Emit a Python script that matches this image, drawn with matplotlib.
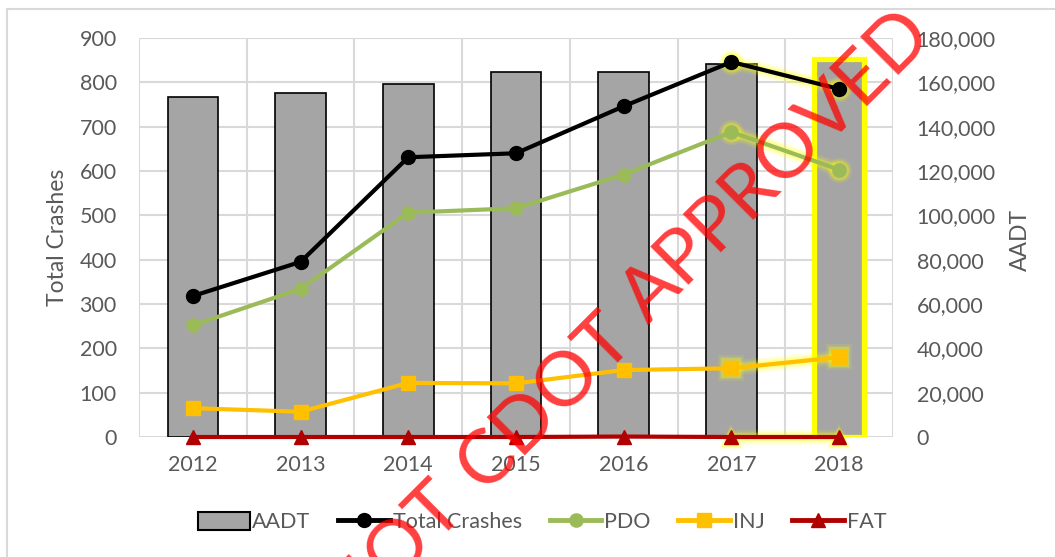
import numpy as np
import matplotlib
matplotlib.use("Agg")
import matplotlib.pyplot as plt
from matplotlib.patches import Rectangle, Patch
from matplotlib.lines import Line2D
from matplotlib.ticker import FuncFormatter

years = ["2012", "2013", "2014", "2015", "2016", "2017", "2018"]
aadt = [153400, 155300, 159200, 164500, 164800, 168300, 170500]
total_crashes = [318, 395, 631, 640, 746, 846, 785]
pdo = [252, 334, 506, 516, 592, 688, 603]
inj = [65, 57, 122, 121, 151, 155, 180]
fat = [0, 0, 0, 0, 1, 0, 0]

# watermark words and their centres (figure pixels from top-left)
stamp_words = ["NOT", "CDOT", "APPROVED"]
stamp_px = [(393, 550), (545, 402), (777, 167)]

plt.rcParams['font.family'] = ['Lato', 'DejaVu Sans']
text_grey = "#595959"
grid_grey = "#D9D9D9"


def main():
    fig = plt.figure(figsize=(10.55, 5.57), dpi=100)

    # outer chart border
    fig.patches.append(Rectangle((7 / 1055, -0.05), 1.2, 0.05 + (557 - 9) / 557,
                                 transform=fig.transFigure, fill=False,
                                 edgecolor=grid_grey, linewidth=1.5))

    ax_bar = fig.add_axes([139 / 1055, 120 / 557, (893 - 139) / 1055, (437 - 38) / 557])
    ax_line = ax_bar.twinx()

    x = np.arange(len(years))

    # bars (right axis) drawn first so they sit behind the lines
    ax_bar.set_axisbelow(True)
    bars = ax_bar.bar(x, aadt, width=0.47, color="#A5A5A5", edgecolor="black", linewidth=1.2)
    bars[-1].set_edgecolor("#FFFF00")
    bars[-1].set_linewidth(3.8)
    ax_bar.set_ylim(0, 180000)
    ax_bar.set_yticks(np.arange(0, 180001, 20000))
    ax_bar.yaxis.set_major_formatter(FuncFormatter(lambda v, p: f"{int(v):,}"))
    ax_bar.yaxis.tick_right()
    ax_bar.grid(axis="y", color=grid_grey, linewidth=1.5)
    for b in np.arange(-0.5, 7, 1.0):
        ax_bar.axvline(b, color=grid_grey, linewidth=1.5, zorder=0)
    ax_bar.set_xlim(-0.5, 6.5)
    ax_bar.set_xticks(x)
    ax_bar.set_xticklabels(years)

    for s in ax_bar.spines.values():
        s.set_visible(False)
    for s in ax_line.spines.values():
        s.set_visible(False)

    # lines (left axis)
    series = [
        (total_crashes, "black", "o", 10, "Total Crashes"),
        (pdo, "#9BBB59", "o", 9.5, "PDO"),
        (inj, "#FFC000", "s", 10, "INJ"),
        (fat, "#B00000", "^", 10, "FAT"),
    ]
    # soft yellow glow on the 2017-2018 points
    for vals, col, mk, ms, name in series:
        for lw, a in [(11, 0.1), (8, 0.15), (5.5, 0.25)]:
            ax_line.plot(x[5:], vals[5:], color="#FFFF00", linewidth=lw, alpha=a,
                         solid_capstyle="round", clip_on=False, zorder=2)
            ax_line.plot(x[5:], vals[5:], linestyle="none", marker=mk, markersize=ms + lw * 0.8,
                         color="#FFFF00", alpha=a, markeredgewidth=0, clip_on=False, zorder=2)
    for vals, col, mk, ms, name in series:
        ax_line.plot(x, vals, color=col, linewidth=3, marker=mk, markersize=ms,
                     clip_on=False, zorder=3)

    ax_line.set_ylim(0, 900)
    ax_line.set_yticks(np.arange(0, 901, 100))
    ax_line.yaxis.tick_left()
    ax_line.set_xlim(-0.5, 6.5)

    for a in (ax_bar, ax_line):
        a.tick_params(length=0, labelsize=15.5, labelcolor=text_grey)
    ax_bar.tick_params(axis="y", pad=17)
    ax_line.tick_params(axis="y", pad=16)
    ax_bar.tick_params(axis="x", pad=13)

    fig.text(58 / 1055, (557 - 237) / 557, "Total Crashes", rotation=90, ha="center",
             va="center", fontsize=16.5, color=text_grey)
    fig.text(1020 / 1055, (557 - 240) / 557, "AADT", rotation=90, ha="center",
             va="center", fontsize=16.5, color=text_grey)

    handles = [Patch(facecolor="#A5A5A5", edgecolor="black", linewidth=1.5, label="AADT")]
    for vals, col, mk, ms, name in series:
        handles.append(Line2D([], [], color=col, linewidth=3.5, marker=mk, markersize=ms,
                              label=name))
    fig.legend(handles=handles, loc="center", bbox_to_anchor=(542 / 1055, 35 / 557), ncol=5,
               frameon=False, fontsize=15.5, labelcolor=text_grey, handlelength=2.4,
               handleheight=0.9, handletextpad=0.12, columnspacing=1.3)

    # watermark
    for word, (px, py) in zip(stamp_words, stamp_px):
        fig.text(px / 1055, (557 - py) / 557, word, rotation=45,
                 rotation_mode="anchor", ha="center", va="center", fontsize=55,
                 color="red", alpha=0.75, zorder=10)

    fig.savefig("out.png", dpi=100)


if __name__ == "__main__":
    main()
